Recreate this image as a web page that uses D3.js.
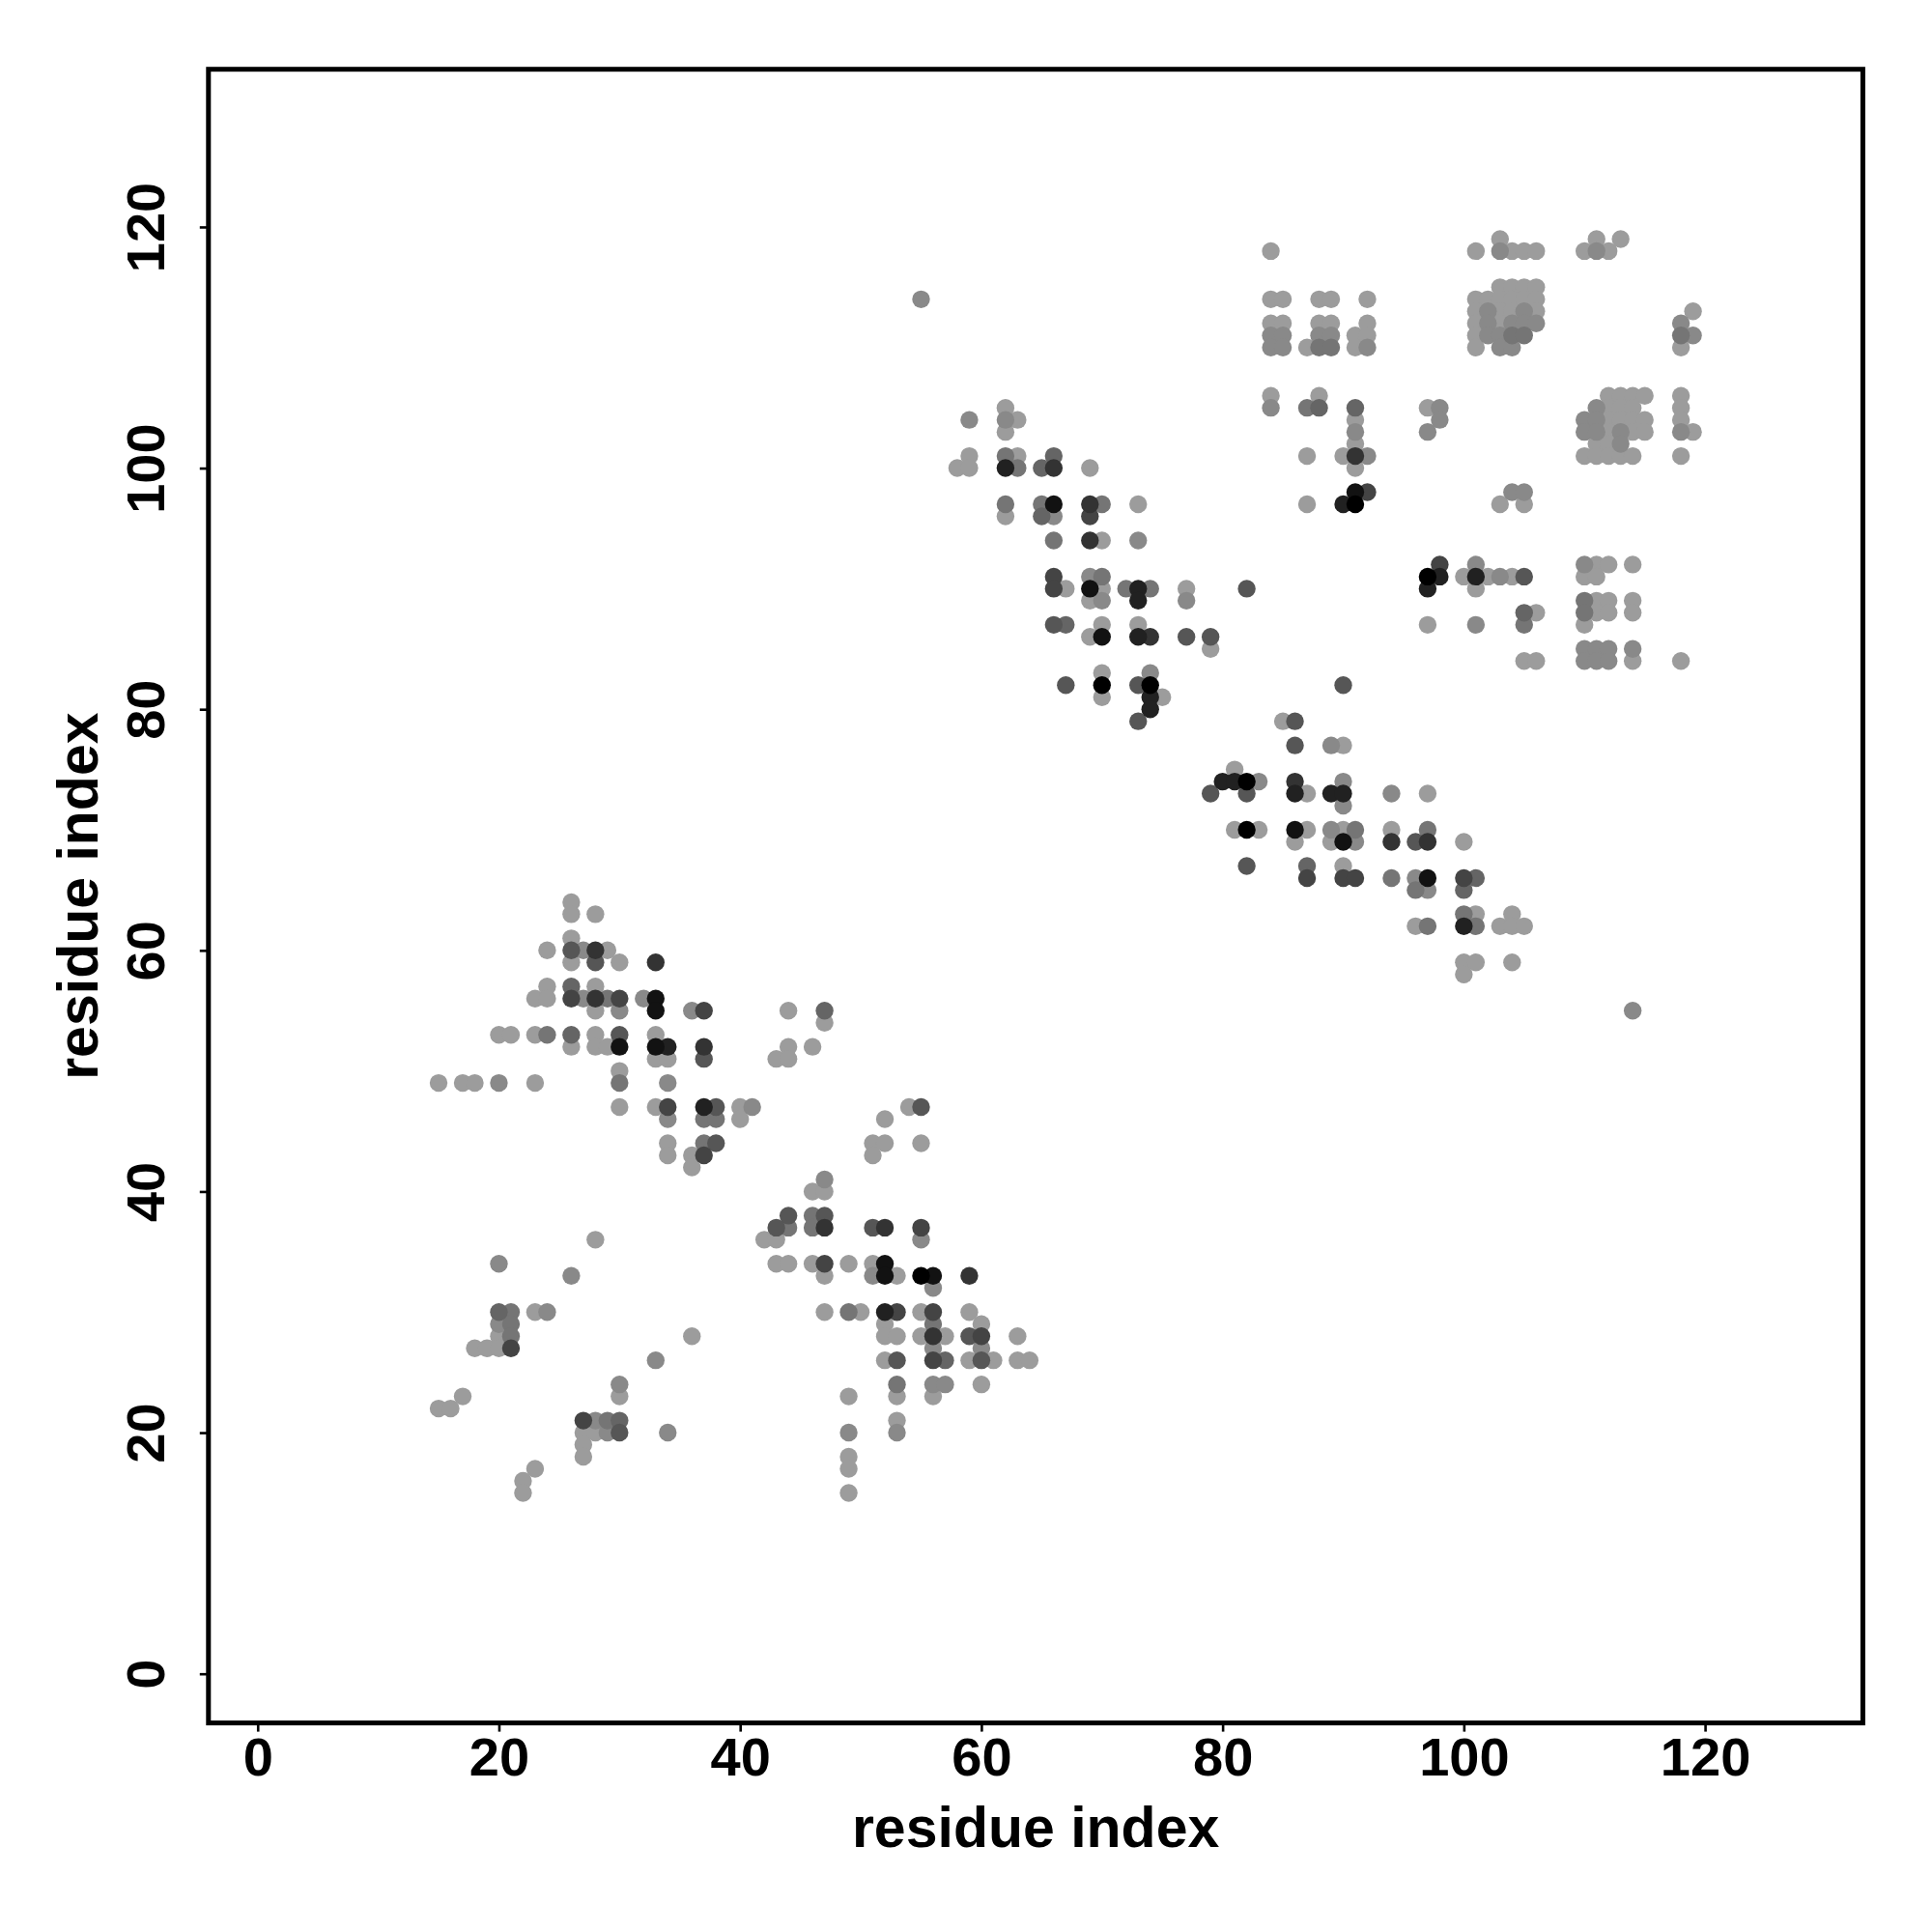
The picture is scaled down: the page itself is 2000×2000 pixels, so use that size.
<!DOCTYPE html>
<html>
<head>
<meta charset="utf-8">
<script src="https://cdn.jsdelivr.net/npm/d3@7/dist/d3.min.js"></script>
<style>
  html, body { margin: 0; padding: 0; background: #fff; }
  svg { display: block; }
</style>
</head>
<body>
<svg id="chart" width="2000" height="2000"></svg>
<script>
// ---- data: contacts [residue i, residue j, contact strength] ----
const contactsLowerUpper = [
  [26,64,0.2],[26,63,0.2],[28,63,0.2],[26,61,0.2],[24,60,0.2],[26,60,0.56],[27,60,0.3],[28,60,0.74],[29,60,0.2],
  [26,59,0.2],[28,59,0.56],[30,59,0.2],[33,59,0.74],[24,57,0.2],[26,57,0.48],[28,57,0.2],
  [23,56,0.2],[24,56,0.2],[26,56,0.65],[27,56,0.3],[28,56,0.74],[29,56,0.4],[30,56,0.65],[32,56,0.3],[33,56,0.91],
  [28,55,0.2],[30,55,0.3],[33,55,0.91],[36,55,0.3],[37,55,0.65],[44,55,0.2],[47,55,0.48],[47,54,0.2],
  [20,53,0.2],[21,53,0.2],[23,53,0.2],[24,53,0.4],[26,53,0.48],[28,53,0.2],[30,53,0.56],[33,53,0.2],
  [26,52,0.2],[28,52,0.2],[29,52,0.2],[30,52,0.91],[33,52,0.91],[34,52,0.83],[37,52,0.74],
  [33,51,0.2],[34,51,0.2],[37,51,0.56],[44,52,0.2],[46,52,0.2],[43,51,0.2],[44,51,0.2],
  [30,50,0.2],[30,49,0.4],[15,49,0.2],[17,49,0.2],[18,49,0.2],[20,49,0.3],[23,49,0.2],[34,49,0.3],
  [30,47,0.2],[33,47,0.2],[34,47,0.65],[37,47,0.83],[38,47,0.56],[40,47,0.2],[41,47,0.3],
  [34,46,0.3],[37,46,0.4],[38,46,0.4],[40,46,0.2],[34,44,0.2],[34,43,0.2],[37,44,0.4],[38,44,0.56],
  [37,43,0.65],[36,43,0.2],[36,42,0.2],[47,41,0.3],[46,40,0.2],[47,40,0.2]
];
const contactsLowerLower = [
  [28,36,0.2],[20,34,0.3],[26,33,0.3],[20,30,0.48],[21,30,0.4],[23,30,0.2],[24,30,0.3],
  [20,29,0.3],[21,29,0.4],[20,28,0.2],[21,28,0.4],[18,27,0.2],[19,27,0.2],[20,27,0.2],[21,27,0.65],
  [36,28,0.2],[33,26,0.3],[30,24,0.3],[30,23,0.2],[17,23,0.2],[15,22,0.2],[16,22,0.2],
  [27,21,0.65],[28,21,0.3],[29,21,0.4],[30,21,0.48],[27,20,0.2],[28,20,0.2],[29,20,0.3],[30,20,0.56],
  [27,19,0.2],[27,18,0.2],[34,20,0.3],[23,17,0.2],[22,16,0.2],[22,15,0.2]
];
const contactsLowerMid = [
  [54,47,0.2],[55,47,0.56],[52,46,0.2],[51,44,0.2],[52,44,0.2],[55,44,0.2],[51,43,0.2],
  [44,38,0.56],[46,38,0.4],[47,38,0.56],[43,37,0.56],[44,37,0.4],[46,37,0.4],[47,37,0.74],
  [42,36,0.2],[43,36,0.2],[51,37,0.56],[52,37,0.74],[55,37,0.65],[55,36,0.3],
  [43,34,0.2],[44,34,0.2],[46,34,0.2],[47,34,0.65],[49,34,0.2],[51,34,0.2],[52,34,0.91],
  [47,33,0.2],[51,33,0.3],[52,33,0.91],[53,33,0.2],[55,33,1.0],[56,33,0.91],[59,33,0.74],[56,32,0.3],
  [47,30,0.2],[49,30,0.4],[50,30,0.2],[52,30,0.83],[53,30,0.65],[55,30,0.2],[56,30,0.65],[59,30,0.2],
  [52,29,0.2],[56,29,0.4],[60,29,0.2],
  [52,28,0.2],[53,28,0.2],[55,28,0.2],[56,28,0.74],[57,28,0.2],[59,28,0.56],[60,28,0.65],[63,28,0.2],
  [56,27,0.3],[60,27,0.3],
  [52,26,0.2],[53,26,0.56],[56,26,0.65],[57,26,0.48],[59,26,0.2],[60,26,0.56],[61,26,0.2],[63,26,0.2],[64,26,0.2],
  [53,24,0.4],[56,24,0.3],[57,24,0.3],[60,24,0.2],[53,23,0.2],[56,23,0.2],[49,23,0.2],
  [53,21,0.2],[53,20,0.3],[49,20,0.3],[49,18,0.2],[49,17,0.2],[49,15,0.2]
];
const contactsUpperDiag = [
  [55,114,0.3],
  [59,104,0.3],[62,105,0.2],[62,104,0.3],[63,104,0.2],[62,103,0.2],[59,101,0.2],[58,100,0.2],[59,100,0.2],
  [62,101,0.4],[63,101,0.2],[62,100,0.83],[63,100,0.4],[66,101,0.48],[65,100,0.48],[66,100,0.74],[69,100,0.2],
  [62,97,0.4],[62,96,0.2],[65,97,0.4],[66,97,0.91],[65,96,0.48],[66,96,0.3],[69,97,0.74],[70,97,0.4],[69,96,0.65],[73,97,0.2],
  [66,94,0.4],[69,94,0.74],[70,94,0.2],[73,94,0.3],
  [66,91,0.65],[66,90,0.65],[67,90,0.2],[69,91,0.3],[70,91,0.4],[69,90,0.91],[70,90,0.2],[69,89,0.2],[70,89,0.3],
  [72,90,0.4],[73,90,0.83],[74,90,0.4],[73,89,0.83],[77,90,0.2],[77,89,0.3],
  [66,87,0.56],[67,87,0.48],[70,87,0.2],[69,86,0.2],[70,86,0.91],[73,87,0.2],[73,86,0.83],[74,86,0.74],
  [77,86,0.56],[79,86,0.56],[79,85,0.2],
  [67,82,0.56],[70,83,0.2],[70,82,1.0],[70,81,0.2],[73,82,0.56],[74,83,0.3],[74,82,1.0],[74,81,0.83],[75,81,0.2],
  [74,80,0.83],[73,79,0.56]
];
const contactsMidRight = [
  [114,55,0.3],
  [90,82,0.56],[85,79,0.2],[86,79,0.56],[86,77,0.56],[89,77,0.3],[90,77,0.2],[81,75,0.2],
  [80,74,0.83],[81,74,0.83],[82,74,1.0],[83,74,0.3],[79,73,0.56],[82,73,0.56],
  [86,74,0.74],[86,73,0.83],[87,73,0.2],[90,74,0.3],[89,73,0.83],[90,73,0.83],[90,72,0.3],[94,73,0.3],[97,73,0.2],
  [81,70,0.2],[82,70,1.0],[83,70,0.2],[86,70,0.91],[87,70,0.2],[86,69,0.2],
  [89,70,0.3],[90,70,0.2],[91,70,0.4],[89,69,0.2],[90,69,0.91],[91,69,0.3],
  [94,70,0.2],[94,69,0.74],[96,69,0.56],[97,70,0.4],[97,69,0.74],[100,69,0.2],
  [82,67,0.56],[87,67,0.48],[87,66,0.65],[90,67,0.2],[90,66,0.65],[91,66,0.65],[94,66,0.4],
  [96,66,0.3],[97,66,0.91],[96,65,0.4],[97,65,0.3],[100,66,0.65],[101,66,0.48],[100,65,0.48],
  [100,63,0.4],[101,63,0.2],[100,62,0.83],[101,62,0.4],[96,62,0.2],[97,62,0.4],
  [103,62,0.2],[104,63,0.2],[104,62,0.2],[105,62,0.2],[100,59,0.2],[101,59,0.2],[100,58,0.2],[104,59,0.2]
];
const contactsUpperMid = [
  [84,118,0.2],
  [84,114,0.2],[85,114,0.2],[88,114,0.2],[89,114,0.2],[92,114,0.2],
  [84,112,0.2],[85,112,0.2],[84,111,0.3],[85,111,0.3],[84,110,0.3],[85,110,0.3],
  [88,112,0.2],[89,112,0.2],[88,111,0.3],[89,111,0.3],[87,110,0.2],[88,110,0.4],[89,110,0.4],
  [92,112,0.2],[91,111,0.2],[92,111,0.2],[91,110,0.2],[92,110,0.3],
  [84,106,0.2],[84,105,0.3],[88,106,0.2],[87,105,0.4],[88,105,0.48],
  [91,105,0.48],[91,104,0.2],[91,103,0.3],[91,102,0.2],[90,101,0.2],[91,101,0.74],[92,101,0.3],[91,100,0.2],
  [87,101,0.2],[97,105,0.2],[98,105,0.3],[98,104,0.3],[97,103,0.3],
  [87,97,0.2],[91,98,0.91],[92,98,0.65],[90,97,0.83],[91,97,1.0],
  [82,90,0.56],[97,91,1.0],[98,92,0.65],[98,91,0.83],[97,90,0.83],[100,91,0.2],[97,87,0.2]
];
const contactsUpperRight = [
  [103,119,0.2],[111,119,0.2],[113,119,0.2],
  [101,118,0.2],[103,118,0.3],[104,118,0.2],[105,118,0.2],[106,118,0.2],[110,118,0.2],[111,118,0.3],[112,118,0.2],
  [103,115,0.2],[104,115,0.2],[105,115,0.2],[106,115,0.2],
  [101,114,0.2],[102,114,0.2],[103,114,0.2],[104,114,0.2],[105,114,0.2],[106,114,0.2],
  [101,113,0.2],[102,113,0.3],[103,113,0.2],[104,113,0.2],[105,113,0.3],[106,113,0.2],
  [101,112,0.2],[102,112,0.3],[103,112,0.2],[104,112,0.3],[105,112,0.3],[106,112,0.3],
  [101,111,0.2],[102,111,0.3],[103,111,0.3],[104,111,0.4],[105,111,0.4],
  [101,110,0.2],[103,110,0.3],[104,110,0.3],
  [119,113,0.2],[118,112,0.3],[118,111,0.4],[119,111,0.3],[118,110,0.2],
  [112,106,0.2],[113,106,0.2],[114,106,0.2],[115,106,0.2],
  [111,105,0.3],[112,105,0.2],[113,105,0.2],[114,105,0.2],
  [110,104,0.3],[111,104,0.3],[112,104,0.2],[113,104,0.2],[114,104,0.2],[115,104,0.2],
  [110,103,0.3],[111,103,0.3],[112,103,0.2],[113,103,0.3],[114,103,0.2],[115,103,0.2],
  [111,102,0.2],[112,102,0.2],[113,102,0.3],
  [110,101,0.2],[111,101,0.2],[112,101,0.2],[113,101,0.2],[114,101,0.2],
  [118,106,0.2],[118,105,0.2],[118,104,0.2],[118,103,0.3],[119,103,0.2],[118,101,0.2],
  [104,98,0.3],[105,98,0.3],[103,97,0.2],[105,97,0.2],
  [101,92,0.3],[110,92,0.3],[111,92,0.2],[112,92,0.2],[114,92,0.2],
  [101,91,0.83],[102,91,0.2],[103,91,0.3],[104,91,0.2],[105,91,0.56],[110,91,0.2],[111,91,0.2],
  [101,90,0.2],
  [110,89,0.4],[111,89,0.2],[112,89,0.2],[114,89,0.2],
  [105,88,0.48],[106,88,0.2],[110,88,0.4],[111,88,0.2],[112,88,0.2],[114,88,0.2],
  [101,87,0.3],[105,87,0.4],[110,87,0.2],
  [110,85,0.3],[111,85,0.3],[112,85,0.3],[114,85,0.3],
  [105,84,0.2],[106,84,0.2],[110,84,0.3],[111,84,0.3],[112,84,0.3],[114,84,0.2],[118,84,0.2]
];
const tickValues = [0, 20, 40, 60, 80, 100, 120];
const axisDomain = [-4.08, 133.08];
const xTitle = "residue index";
const yTitle = "residue index";

// ---- drawing ----
const svg = d3.select("#chart");
const font = "'Liberation Sans', Arial, Helvetica, sans-serif";
const plotLeft = 215.8, plotRight = 1928.4, plotTop = 71.7, plotBottom = 1783.6;

const xScale = d3.scaleLinear().domain(axisDomain).range([plotLeft, plotRight]);
const yScale = d3.scaleLinear().domain(axisDomain).range([plotBottom, plotTop]);
const shade = d3.scaleLinear().domain([0.2, 1]).range(["#9c9c9c", "#000000"]).clamp(true);

const allContacts = [].concat(contactsLowerUpper, contactsLowerLower, contactsLowerMid,
  contactsUpperDiag, contactsMidRight, contactsUpperMid, contactsUpperRight)
  .map(d => ({i: d[0], j: d[1], p: d[2]}))
  .sort((a, b) => a.p - b.p);

svg.append("g").selectAll("circle").data(allContacts).join("circle")
  .attr("cx", d => xScale(d.i))
  .attr("cy", d => yScale(d.j))
  .attr("r", 9.2)
  .attr("fill", d => shade(d.p));

// frame
svg.append("rect")
  .attr("x", plotLeft).attr("y", plotTop)
  .attr("width", plotRight - plotLeft).attr("height", plotBottom - plotTop)
  .attr("fill", "none").attr("stroke", "#000").attr("stroke-width", 5);

// x axis
const xAxis = d3.axisBottom(xScale).tickValues(tickValues).tickSize(9).tickPadding(14).tickFormat(d3.format("d"));
const gx = svg.append("g").attr("transform", `translate(0,${plotBottom})`).call(xAxis);
gx.select(".domain").remove();
gx.selectAll(".tick line").attr("stroke", "#000").attr("stroke-width", 2.6);
gx.selectAll(".tick text")
  .attr("font-family", font).attr("font-weight", "bold").attr("font-size", 56)
  .attr("fill", "#000").attr("dy", null).attr("y", 54.5);

// y axis
const yAxis = d3.axisLeft(yScale).tickValues(tickValues).tickSize(9).tickFormat(d3.format("d"));
const gy = svg.append("g").attr("transform", `translate(${plotLeft},0)`).call(yAxis);
gy.select(".domain").remove();
gy.selectAll(".tick line").attr("stroke", "#000").attr("stroke-width", 2.6);
gy.selectAll(".tick text")
  .attr("font-family", font).attr("font-weight", "bold").attr("font-size", 56)
  .attr("fill", "#000")
  .attr("x", null).attr("dy", null)
  .attr("text-anchor", "middle")
  .attr("transform", "translate(-46,0) rotate(-90)");

// titles
svg.append("text")
  .attr("x", (plotLeft + plotRight) / 2).attr("y", 1912)
  .attr("text-anchor", "middle")
  .attr("font-family", font).attr("font-weight", "bold").attr("font-size", 59)
  .text(xTitle);
svg.append("text")
  .attr("transform", `translate(101,${(plotTop + plotBottom) / 2}) rotate(-90)`)
  .attr("text-anchor", "middle")
  .attr("font-family", font).attr("font-weight", "bold").attr("font-size", 59)
  .text(yTitle);
</script>
</body>
</html>
